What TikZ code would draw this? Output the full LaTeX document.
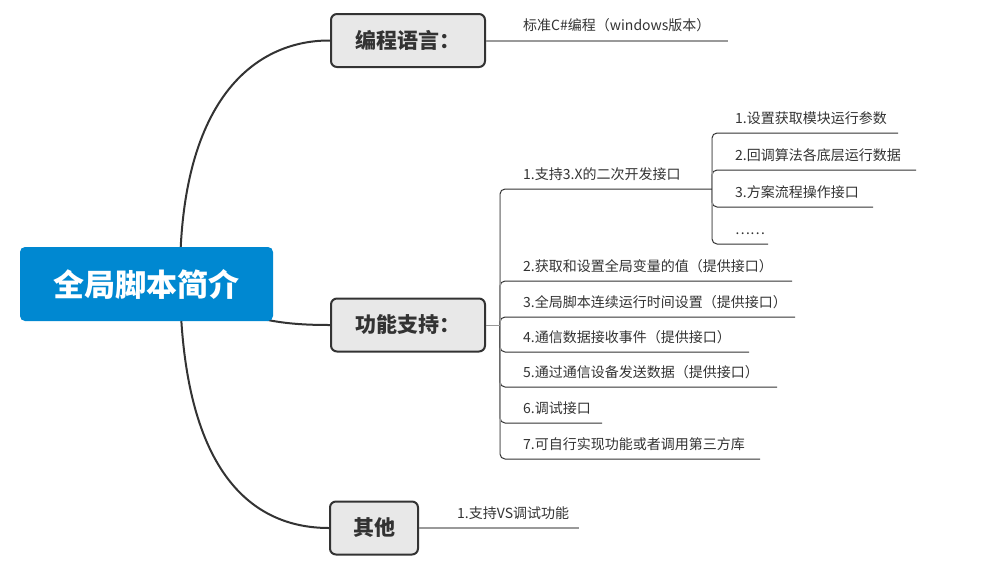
\documentclass[tikz,border=0pt]{standalone}
\usepackage{fontspec}
\setmainfont{Noto Sans CJK SC}
\usepackage{xcolor}
\usepackage{tikz}
\usetikzlibrary{backgrounds}
\definecolor{rootblue}{RGB}{0,136,209}
\definecolor{boxgray}{RGB}{232,232,232}
\definecolor{inkdark}{RGB}{51,51,51}
\definecolor{inkgray}{RGB}{153,153,153}
\tikzset{
    rootnode/.style = {fill=rootblue, text=white, rounded corners=5pt,
        minimum width=253pt, minimum height=74pt, inner sep=0pt,
        font=\fontsize{31}{31}\selectfont\bfseries},
    topic/.style = {fill=boxgray, draw=inkdark, line width=2pt, rounded corners=6pt,
        minimum width=154pt, minimum height=53pt, inner sep=0pt, text=inkdark,
        font=\fontsize{21}{21}\selectfont\bfseries},
    leaf/.style = {anchor=base west, inner sep=0pt, yshift=10pt, text=inkdark,
        font=\fontsize{14}{14}\selectfont},
    branch/.style = {draw=inkdark, line width=2pt},
    leafline/.style = {draw=inkdark, line width=1pt, rounded corners=5pt},
    stem/.style = {draw=inkgray, line width=1pt},
    single/.style = {draw=inkgray, line width=2pt},
}
% one leaf: name, junction, text x, line y, line end x, text
\newcommand{\leafitem}[6]{%
    \node[leaf] (#1) at (#3,#4) {#6};
    \coordinate (#1e) at (#5,#4);
    \draw[leafline] (#2) |- (#1e);
}

\begin{document}
\begin{tikzpicture}[x=1pt,y=-1pt]
        \useasboundingbox (0,0) rectangle (986,566);
        \node (root) [rootnode] at (146.5,284) {全局脚本简介};
        \coordinate (rj) at (180,284);
        \node (lang) [topic] at (408,40.5) {编程语言：};
        \node (func) [topic] at (408,325) {功能支持：};
        \node (other) [topic, minimum width=88pt] at (374,528) {其他};
        \begin{scope}[on background layer]
            \draw[branch] (rj) .. controls (178,90) and (262,40) .. (lang.west);
            \draw[branch] (rj) .. controls (240,320) and (280,325) .. (func.west);
            \draw[branch] (rj) .. controls (182,470) and (250,528) .. (other.west);
        \end{scope}
        % programming language
        \node (lang1) [leaf] at (523,40.5) {标准C\#编程（windows版本）};
        \coordinate (lang1e) at (728,40.5);
        \draw[single] (lang.east) -- (lang1e);
        % functions
        \coordinate (fj) at (500,325);
        \coordinate (sj) at (712,189);
        \node (f1) [leaf] at (523,189) {1.支持3.X的二次开发接口};
        \draw[leafline] (fj) |- (sj);
        \leafitem{f2}{fj}{523}{281}{792}{2.获取和设置全局变量的值（提供接口）}
        \leafitem{f3}{fj}{523}{317}{795}{3.全局脚本连续运行时间设置（提供接口）}
        \leafitem{f4}{fj}{523}{352}{749}{4.通信数据接收事件（提供接口）}
        \leafitem{f5}{fj}{523}{387}{777}{5.通过通信设备发送数据（提供接口）}
        \leafitem{f6}{fj}{523}{423}{602}{6.调试接口}
        \leafitem{f7}{fj}{523}{459}{760}{7.可自行实现功能或者调用第三方库}
        \draw[stem] (func.east) -- (fj);
        \draw[stem] ([yshift=-5pt]fj |- sj) -- ([yshift=5pt]fj |- f7e);
        % sub items
        \leafitem{s1}{sj}{735}{133}{898}{1.设置获取模块运行参数}
        \leafitem{s2}{sj}{735}{170}{916}{2.回调算法各底层运行数据}
        \leafitem{s3}{sj}{735}{207}{873}{3.方案流程操作接口}
        \leafitem{s4}{sj}{735}{244}{768}{……}
        \draw[stem] ([yshift=-5pt]sj |- s1e) -- ([yshift=5pt]sj |- s4e);
        % others
        \node (other1) [leaf] at (457,528) {1.支持VS调试功能};
        \coordinate (other1e) at (579,528);
        \draw[single] (other.east) -- (other1e);
\end{tikzpicture}
\end{document}
